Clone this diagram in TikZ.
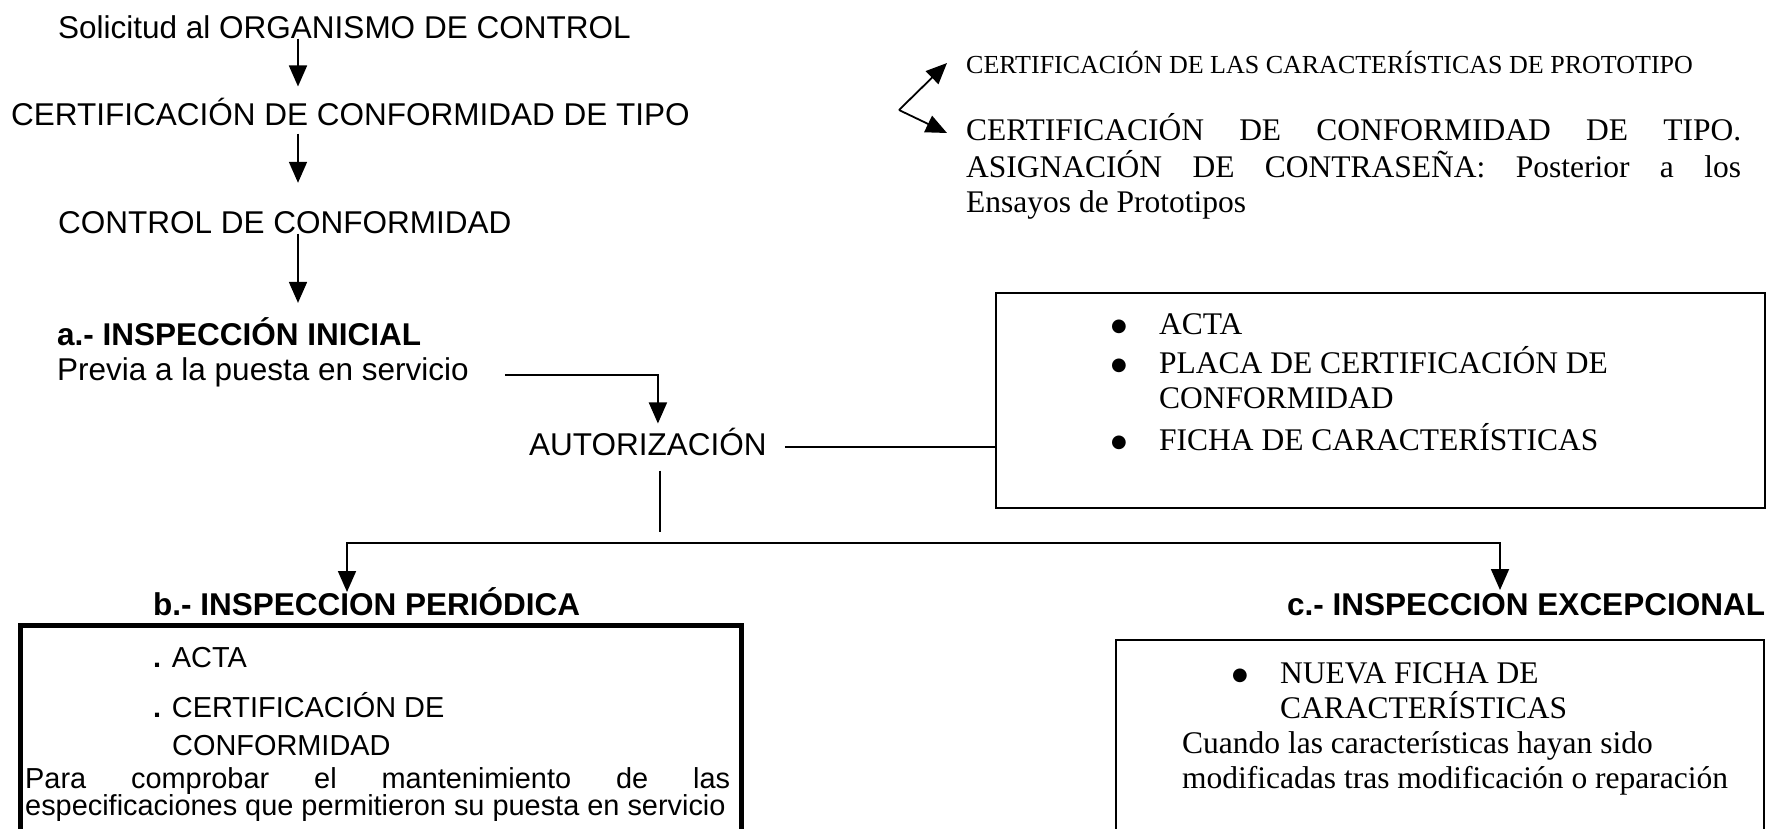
\documentclass[tikz,border=0pt]{standalone}
\usepackage{fontspec}
\setmainfont{Liberation Sans}
\newfontfamily\TimesFont{Liberation Serif}
\newfontfamily\SymFont{DejaVu Sans}
\usetikzlibrary{arrows.meta}
\newcommand{\Bul}{\makebox[48pt][l]{\raisebox{3pt}{\SymFont\fontsize{18}{18}\selectfont ●}}}
\tikzstyle{TxtSans}=[inner sep=0pt,anchor=base west,font=\fontsize{31.5}{36}\selectfont]
\tikzstyle{TxtSansBold}=[TxtSans,font=\fontsize{31.5}{36}\selectfont\bfseries]
\tikzstyle{TxtSansSmall}=[TxtSans,font=\fontsize{28.9}{33}\selectfont]
\tikzstyle{TxtSerif}=[inner sep=0pt,anchor=base west,font=\TimesFont\fontsize{31.5}{36}\selectfont]
\tikzstyle{TxtSerifSmall}=[TxtSerif,font=\TimesFont\fontsize{26}{30}\selectfont]
\tikzstyle{EdgeFlow}=[line width=1.8pt]
\tikzstyle{ArrowFlow}=[EdgeFlow,-{Triangle[length=21pt,width=18pt]}]
\tikzstyle{ArrowTwo}=[EdgeFlow,{Triangle[length=21pt,width=18pt]}-{Triangle[length=21pt,width=18pt]}]
\tikzstyle{BoxThin}=[draw,line width=2pt,inner sep=0pt,anchor=north west]
\tikzstyle{BoxThick}=[draw,line width=5pt,inner sep=0pt,anchor=north west]

\begin{document}
\begin{tikzpicture}[x=1pt,y=-1pt]
    \useasboundingbox (0,0) rectangle (1775,828);
        % main column
        \node[TxtSans](solicitud)at(58,38){Solicitud al ORGANISMO DE CONTROL};
        \node[TxtSans](certtipo)at(11,125){CERTIFICACIÓN DE CONFORMIDAD DE TIPO};
        \node[TxtSans](control)at(58,233){CONTROL DE CONFORMIDAD};
        \node[TxtSansBold](inicial)at(57,345){a.- INSPECCIÓN INICIAL};
        \node[TxtSans](previa)at(57,380){Previa a la puesta en servicio};
        \node[TxtSans](autor)at(529,455){AUTORIZACIÓN};
        \node[TxtSansBold](periodica)at(153,615){b.- INSPECCION PERIÓDICA};
        \node[TxtSansBold](excep)at(1287,615){c.- INSPECCION EXCEPCIONAL};
        \coordinate(spine)at(298,0);
        \coordinate(branch)at(660,532);
        \coordinate(forkL)at(347,543);
        \coordinate(forkR)at(1500,543);
        \draw[ArrowFlow,shorten >=11pt](solicitud.south -| spine)--(certtipo.north -| spine);
        \draw[ArrowFlow,shorten <=8pt,shorten >=28pt](certtipo.south -| spine)--(control.north -| spine);
        \draw[ArrowFlow,shorten >=14pt](control.south -| spine)--(inicial.north -| spine);
        \draw[ArrowFlow]([xshift=36pt,yshift=5pt]previa.base east)-|([xshift=10pt,yshift=4pt]autor.north);
        % top right
        \node[TxtSerifSmall](protot)at(966,73){CERTIFICACIÓN DE LAS CARACTERÍSTICAS DE PROTOTIPO};
        \node[TxtSerif](tipoA)at(966,140){\makebox[775pt][s]{CERTIFICACIÓN DE CONFORMIDAD DE TIPO.}};
        \node[TxtSerif](tipoB)at(966,177){\makebox[775pt][s]{ASIGNACIÓN DE CONTRASEÑA: Posterior a los}};
        \node[TxtSerif](tipoC)at(966,212){Ensayos de Prototipos};
        \coordinate(split)at(899,110);
        \draw[ArrowFlow](split)--([shift={(-19,-10)}]protot.base west);
        \draw[ArrowFlow](split)--([shift={(-19,-7)}]tipoA.base west);
        % documents of the initial inspection
        \node[BoxThin,minimum width=769pt,minimum height=215pt](boxacta)at(995,292){};
        \node[TxtSerif](actaA)at(1111,334){\Bul ACTA};
        \node[TxtSerif](actaB)at(1111,373){\Bul PLACA DE CERTIFICACIÓN DE};
        \node[TxtSerif](actaC)at(1159,408){CONFORMIDAD};
        \node[TxtSerif](actaD)at(1111,450){\Bul FICHA DE CARACTERÍSTICAS};
        \coordinate(autR)at([xshift=18pt,yshift=8pt]autor.base east);
        \draw[EdgeFlow](autR)--(autR -| boxacta.west);
        \draw[EdgeFlow]([yshift=-15pt]autor.south -| branch)--(branch);
        \draw[ArrowTwo]([yshift=23pt]periodica.base -| forkL)|-(forkR)-|([yshift=25pt]excep.base -| forkR);
        % periodic inspection
        \node[BoxThick,minimum width=721pt,minimum height=240pt](boxperiod)at(18,623){};
        \node[TxtSansSmall](perA)at(153,667){\textbf{.} ACTA};
        \node[TxtSansSmall](perB)at(153,717){\textbf{.} CERTIFICACIÓN DE};
        \node[TxtSansSmall](perC)at(172,755){CONFORMIDAD};
        \node[TxtSansSmall](perD)at(25,788){\makebox[705pt][s]{Para comprobar el mantenimiento de las}};
        \node[TxtSansSmall](perE)at(25,815){especificaciones que permitieron su puesta en servicio};
        % exceptional inspection
        \node[BoxThin,minimum width=648pt,minimum height=250pt](boxexcep)at(1115,639){};
        \node[TxtSerif](excA)at(1232,683){\Bul NUEVA FICHA DE};
        \node[TxtSerif](excB)at(1280,718){CARACTERÍSTICAS};
        \node[TxtSerif](excC)at(1182,753){Cuando las características hayan sido};
        \node[TxtSerif](excD)at(1182,788){modificadas tras modificación o reparación};
    \end{tikzpicture}
\end{document}
